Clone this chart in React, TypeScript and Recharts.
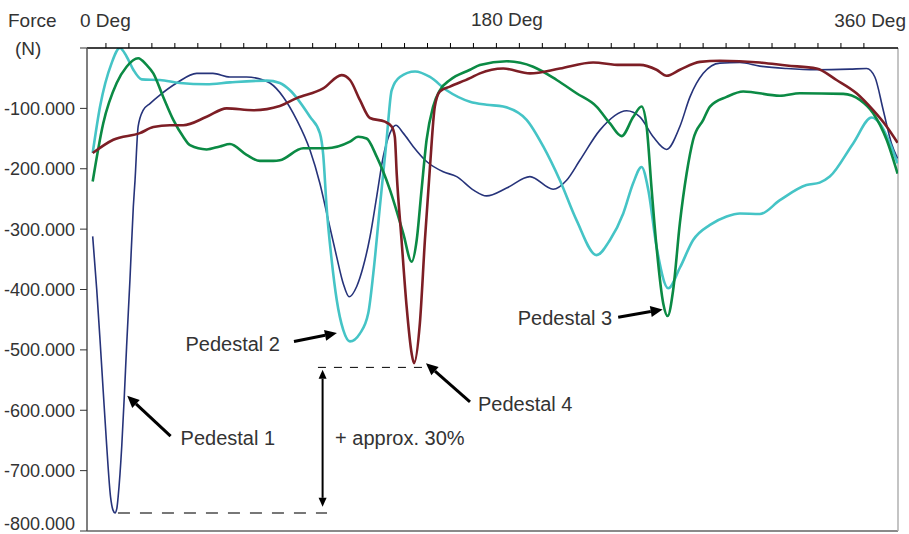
import React from "react";
import { LineChart, Line, XAxis, YAxis, ReferenceLine } from "recharts";

// Force per pedestal over one revolution (deg, N)
const p1Deg = [-6.3, -4.4, -2.8, -1.3, 0.3, 2.2, 3.3, 4.3, 5.2, 5.8, 7.5, 8.7, 9.8, 11.4, 13.0, 13.8, 15.3, 17.7, 20.9, 25.6, 33.6, 43.1, 50.8, 58.9, 66.8, 74.7, 77.9, 84.2, 90.6, 96.9, 101.6, 105.6, 109.6, 112.7, 115.5, 119.1, 122.2, 125.4, 128.6, 131.7, 134.9, 137.7, 141.2, 145.9, 152.3, 160.2, 166.6, 174.4, 180.8, 190.3, 201.4, 212.4, 218.8, 225.1, 234.6, 247.3, 253.6, 259.9, 266.3, 272.6, 277.4, 283.7, 291.6, 301.1, 310.6, 323.3, 337.5, 353.3, 361.3, 365.2, 369.2, 373.1, 376.0];
const p1Force = [-312, -399, -484, -568, -656, -744, -765, -770, -762, -743, -660, -578, -495, -384, -263, -220, -130, -103, -92, -78, -58, -42, -42, -48, -48, -53, -58, -81, -119, -169, -224, -285, -346, -390, -412, -395, -362, -313, -246, -180, -141, -128, -141, -163, -188, -205, -213, -235, -245, -232, -213, -234, -219, -186, -136, -104, -114, -147, -168, -130, -81, -42, -25, -24, -30, -34, -36, -35, -34, -48, -103, -158, -183];

const p2Deg = [-6.3, -2.8, 2.7, 6.6, 9.8, 13.0, 17.0, 25.6, 35.1, 47.8, 58.9, 76.3, 82.6, 87.4, 96.9, 101.6, 103.2, 104.8, 107.2, 109.6, 112.7, 115.9, 120.6, 124.6, 127.0, 130.1, 133.3, 135.7, 139.6, 146.8, 153.9, 161.8, 172.9, 180.8, 188.7, 199.8, 207.7, 215.6, 223.5, 233.0, 239.4, 245.7, 250.4, 254.4, 257.6, 261.5, 267.1, 272.6, 278.9, 286.9, 294.8, 301.1, 310.6, 320.1, 332.7, 339.0, 343.8, 354.9, 363.7, 367.6, 372.4, 376.0];
const p2Force = [-174, -97, -25, 0, -14, -36, -52, -53, -58, -60, -57, -54, -58, -70, -114, -141, -177, -263, -351, -417, -467, -486, -473, -439, -373, -263, -152, -70, -48, -39, -48, -70, -89, -94, -97, -119, -163, -219, -285, -343, -318, -274, -224, -197, -235, -329, -398, -364, -318, -293, -279, -274, -275, -252, -227, -223, -213, -158, -115, -125, -158, -191];

const p3Deg = [-6.3, -1.3, 5.1, 9.8, 15.3, 19.3, 22.5, 27.2, 32.0, 36.7, 39.9, 47.8, 54.1, 58.9, 66.8, 73.1, 79.5, 82.6, 93.7, 104.8, 115.9, 119.8, 123.8, 128.6, 134.9, 141.2, 145.2, 147.6, 149.9, 152.3, 155.4, 158.6, 163.4, 172.9, 177.6, 190.3, 202.9, 214.1, 223.5, 233.0, 239.4, 244.9, 250.5, 254.4, 256.8, 259.2, 261.5, 264.7, 266.8, 269.4, 272.6, 275.8, 278.9, 283.7, 286.9, 294.8, 302.7, 320.1, 329.6, 350.2, 358.1, 364.4, 370.8, 376.0];
const p3Force = [-221, -125, -58, -31, -17, -28, -42, -81, -119, -147, -161, -168, -163, -159, -177, -187, -187, -186, -166, -166, -155, -147, -150, -180, -235, -307, -354, -318, -235, -152, -97, -70, -53, -36, -28, -22, -31, -53, -75, -97, -125, -146, -114, -97, -130, -235, -329, -423, -444, -401, -290, -208, -152, -119, -97, -81, -72, -79, -75, -76, -86, -108, -152, -208];

const p4Deg = [-6.3, 3.5, 16.1, 22.5, 30.4, 36.7, 47.8, 57.3, 70.0, 82.6, 90.6, 103.2, 111.9, 115.9, 120.6, 125.4, 132.5, 135.7, 137.2, 138.1, 140.4, 142.8, 145.2, 146.3, 149.1, 151.5, 153.9, 156.2, 158.6, 163.4, 172.9, 177.6, 188.7, 201.4, 215.6, 231.4, 244.1, 253.6, 261.5, 266.3, 272.6, 282.1, 291.6, 310.6, 323.3, 337.5, 347.0, 356.5, 364.4, 370.8, 376.0];
const p4Force = [-174, -152, -141, -131, -128, -128, -114, -100, -103, -96, -83, -67, -45, -53, -86, -116, -122, -130, -147, -208, -318, -428, -506, -522, -456, -318, -197, -97, -72, -64, -50, -42, -34, -42, -34, -24, -28, -28, -36, -46, -36, -23, -21, -24, -29, -34, -53, -75, -103, -130, -157];

const seriesNames = ["Pedestal 1", "Pedestal 2", "Pedestal 3", "Pedestal 4"];
const yTicks = [-800, -700, -600, -500, -400, -300, -200, -100, 0];
const degTicks = Array.from({ length: 34 }, (_, k) => (k * 360) / 33);
const degLabels = ["0 Deg", "180 Deg", "360 Deg"];

const toRows = (deg: number[], force: number[]) => deg.map((d, i) => ({ deg: d, force: force[i] }));

const series = [
  { name: seriesNames[0], data: toRows(p1Deg, p1Force), color: "#26337a", width: 1.6 },
  { name: seriesNames[1], data: toRows(p2Deg, p2Force), color: "#45c4c6", width: 2.6 },
  { name: seriesNames[2], data: toRows(p3Deg, p3Force), color: "#0b8a44", width: 2.6 },
  { name: seriesNames[3], data: toRows(p4Deg, p4Force), color: "#7d1e25", width: 2.6 },
];

const FONT = "'Liberation Sans', Arial, sans-serif";
const INK = "#333";

// tip of each pointer sits on the trough it names
const pointers = [
  { text: seriesNames[0], tail: { x: 30.7, y: -643 }, tip: { x: 10.1, y: -576 }, anchor: "start", dx: 10, dy: 9 },
  { text: seriesNames[1], tail: { x: 89.3, y: -486 }, tip: { x: 109.7, y: -472 }, anchor: "end", dx: -14, dy: 10 },
  { text: seriesNames[2], tail: { x: 243.3, y: -446 }, tip: { x: 264.4, y: -433 }, anchor: "end", dx: -6, dy: 8 },
  { text: seriesNames[3], tail: { x: 172.9, y: -586 }, tip: { x: 152.0, y: -522 }, anchor: "start", dx: 8, dy: 9 },
];

const headPts = (x1: number, y1: number, x2: number, y2: number, len: number, half: number) => {
  const L = Math.hypot(x2 - x1, y2 - y1) || 1;
  const ux = (x2 - x1) / L;
  const uy = (y2 - y1) / L;
  const bx = x2 - ux * len;
  const by = y2 - uy * len;
  return { base: [bx, by], pts: `${x2},${y2} ${bx - uy * half},${by + ux * half} ${bx + uy * half},${by - ux * half}` };
};

const pointerShape = (text: string, anchor: string, dx: number, dy: number) => (props: any) => {
  const { x1, y1, x2, y2 } = props;
  const h = headPts(x1, y1, x2, y2, 12, 5.5);
  return (
    <g>
      <line x1={x1} y1={y1} x2={h.base[0]} y2={h.base[1]} stroke="#000" strokeWidth={3} />
      <polygon points={h.pts} fill="#000" />
      <text x={x1 + dx} y={y1 + dy} textAnchor={anchor as any} fontSize={20} fontFamily={FONT} fill={INK}>
        {text}
      </text>
    </g>
  );
};

const doubleArrow = (props: any) => {
  const { x1, y1, x2, y2 } = props;
  const a = headPts(x1, y1, x2, y2, 9, 4);
  const b = headPts(x2, y2, x1, y1, 9, 4);
  return (
    <g>
      <line x1={b.base[0]} y1={b.base[1]} x2={a.base[0]} y2={a.base[1]} stroke="#000" strokeWidth={2} />
      <polygon points={a.pts} fill="#000" />
      <polygon points={b.pts} fill="#000" />
      <text x={x1 + 12.5} y={(y1 + y2) / 2 + 7} fontSize={20} fontFamily={FONT} fill={INK}>
        + approx. 30%
      </text>
    </g>
  );
};

// force tick labels; the lowest one sits a little higher so it stays on the page
const ForceTick = (props: any) => {
  const { x, y, payload } = props;
  if (payload.value === 0) return <g />;
  const lift = payload.value === -800 ? -7 : 0;
  return (
    <text x={x} y={y + lift} dy="0.355em" textAnchor="end" fontSize={18} fontFamily={FONT} fill={INK}>
      {payload.value.toFixed(3)}
    </text>
  );
};

const App: React.FC = () => (
  <div style={{ position: "absolute", left: 0, top: 0, width: 909, height: 534, background: "#fff" }}>
    <LineChart width={909} height={534} margin={{ top: 0, right: 11, bottom: 3, left: 0 }}>
      <XAxis
        type="number"
        dataKey="deg"
        orientation="top"
        domain={[-9, 376.2]}
        allowDataOverflow
        ticks={degTicks}
        interval={0}
        height={48}
        tickSize={5}
        tick={() => <g />}
        axisLine={{ stroke: "#000", strokeWidth: 1.5 }}
        tickLine={{ stroke: "#000" }}
      />
      <YAxis
        type="number"
        domain={[-800, 0]}
        allowDataOverflow
        ticks={yTicks}
        interval={0}
        width={87}
        tickSize={7}
        tickMargin={5}
        tick={ForceTick}
        axisLine={{ stroke: "#555", strokeWidth: 1.5 }}
        tickLine={{ stroke: "#333" }}
      />
      <ReferenceLine y={-800} stroke="#8a8a8a" strokeWidth={2} />
      <ReferenceLine x={376.2} stroke="#b0b0b0" strokeWidth={1.5} />
      <ReferenceLine
        segment={[{ x: 5.7, y: -770 }, { x: 105.0, y: -770 }]}
        stroke="#777"
        strokeWidth={2}
        strokeDasharray="12 10"
      />
      <ReferenceLine
        segment={[{ x: 100.7, y: -529 }, { x: 151.5, y: -529 }]}
        stroke="#000"
        strokeWidth={1}
        strokeDasharray="8 8"
      />
      <ReferenceLine segment={[{ x: 102.9, y: -533 }, { x: 102.9, y: -760 }]} shape={doubleArrow} />
      {series.map((s) => (
        <Line
          key={s.name}
          name={s.name}
          data={s.data}
          dataKey="force"
          type="monotone"
          stroke={s.color}
          strokeWidth={s.width}
          dot={false}
          activeDot={false}
          isAnimationActive={false}
        />
      ))}
      {pointers.map((p) => (
        <ReferenceLine
          key={p.text}
          segment={[p.tail, p.tip]}
          shape={pointerShape(p.text, p.anchor, p.dx, p.dy)}
        />
      ))}
    </LineChart>
    <svg width={909} height={60} style={{ position: "absolute", left: 0, top: 0, pointerEvents: "none" }}>
      <g fontFamily={FONT} fontSize={19} fill={INK}>
        <text x={8} y={27}>Force</text>
        <text x={15} y={55}>(N)</text>
        <text x={80} y={27}>{degLabels[0]}</text>
        <text x={471} y={26}>{degLabels[1]}</text>
        <text x={906} y={27} textAnchor="end">{degLabels[2]}</text>
      </g>
    </svg>
  </div>
);

export default App;
